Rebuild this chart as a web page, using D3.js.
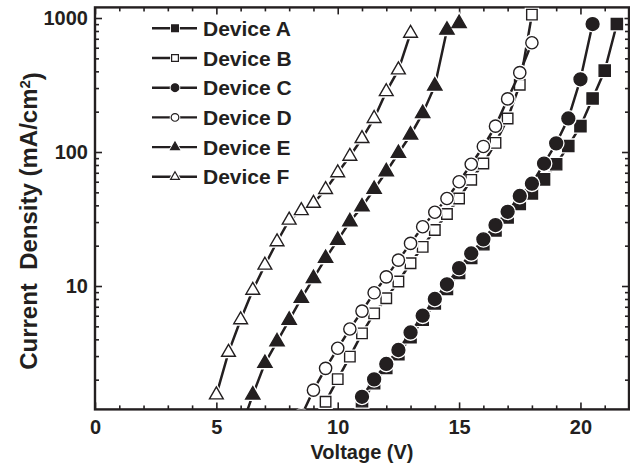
<!DOCTYPE html>
<html lang="en">
<head>
<meta charset="UTF-8">
<title>Current Density vs Voltage</title>
<script src="https://cdn.jsdelivr.net/npm/d3@7"></script>
<style>
  body { margin: 0; background: #fff; }
  svg text { font-family: "Liberation Sans", Arial, sans-serif; font-weight: bold; fill: #231f20; }
</style>
</head>
<body>
<script>
// device names (legend order)
const devices = ['Device A', 'Device B', 'Device C', 'Device D', 'Device E', 'Device F']

// voltage (V) / current density (mA/cm2)
const voltA = [11, 11.5, 12, 12.5, 13, 13.5, 14, 14.5, 15, 15.5, 16, 16.5, 17, 17.5, 18, 18.5, 19, 19.5, 20, 20.5, 21, 21.5]
const currA = [1.38, 1.88, 2.45, 3.1, 4.15, 5.6, 7.4, 9.5, 12.5, 16.2, 20.5, 26, 32.5, 41, 49, 62.5, 81, 111, 156, 251, 405, 902]

const voltB = [9.5, 10, 10.5, 11, 11.5, 12, 12.5, 13, 13.5, 14, 14.5, 15, 15.5, 16, 16.5, 17, 17.5, 18]
const currB = [1.37, 2.02, 2.97, 4.43, 6.25, 8.1, 10.8, 14.8, 19.6, 26.2, 34.5, 45, 62, 82, 117, 178, 318, 1060]

const voltC = [11, 11.5, 12, 12.5, 13, 13.5, 14, 14.5, 15, 15.5, 16, 16.5, 17, 17.5, 18, 18.5, 19, 19.5, 20, 20.5]
const currC = [1.49, 2.01, 2.62, 3.33, 4.5, 6.0, 8.0, 10.3, 13.6, 17.5, 22.3, 28.5, 35.8, 47, 58, 82, 116, 178, 349, 902]

const voltD = [8.5, 9, 9.5, 10, 10.5, 11, 11.5, 12, 12.5, 13, 13.5, 14, 14.5, 15, 15.5, 16, 16.5, 17, 17.5, 18]
const currD = [1.07, 1.67, 2.43, 3.43, 4.78, 6.5, 8.9, 11.7, 15.6, 20.8, 27.7, 35.5, 45, 60, 81, 110, 156, 249, 391, 654]

const voltE = [6, 6.5, 7, 7.5, 8, 8.5, 9, 9.5, 10, 10.5, 11, 11.5, 12, 12.5, 13, 13.5, 14, 14.5, 15]
const currE = [0.85, 1.54, 2.65, 3.84, 5.57, 8.1, 11.4, 16.1, 22, 30.2, 39, 52.7, 71.3, 97.8, 134, 194, 311, 813, 912]

const voltF = [5, 5.5, 6, 6.5, 7, 7.5, 8, 8.5, 9, 9.5, 10, 10.5, 11, 11.5, 12, 12.5, 13]
const currF = [1.54, 3.2, 5.6, 9.3, 14.3, 21.4, 31, 36.5, 41.4, 52.5, 70, 93, 126, 178, 282, 410, 770]

const xMajor = [0, 5, 10, 15, 20]
const xMinor = [1, 2, 3, 4, 6, 7, 8, 9, 11, 12, 13, 14, 16, 17, 18, 19, 21]
const yMajor = [10, 100, 1000]
const yMinor = [2, 3, 4, 5, 6, 7, 8, 9, 20, 30, 40, 50, 60, 70, 80, 90, 200, 300, 400, 500, 600, 700, 800, 900]

const width = 630
const height = 467
const ink = '#231f20'

const plot = { left: 95, right: 629, top: 7.4, bottom: 409.4 }

const series = [
  { name: devices[0], v: voltA, j: currA, shape: d3.symbolSquare, filled: true, size: 125 },
  { name: devices[1], v: voltB, j: currB, shape: d3.symbolSquare, filled: false, size: 110 },
  { name: devices[2], v: voltC, j: currC, shape: d3.symbolCircle, filled: true, size: 130 },
  { name: devices[3], v: voltD, j: currD, shape: d3.symbolCircle, filled: false, size: 118 },
  { name: devices[4], v: voltE, j: currE, shape: d3.symbolTriangle, filled: true, size: 88 },
  { name: devices[5], v: voltF, j: currF, shape: d3.symbolTriangle, filled: false, size: 82 }
]

const svg = d3.select('body').append('svg')
  .attr('width', width)
  .attr('height', height)

const xScale = d3.scaleLinear().domain([0, 22]).range([plot.left, plot.right])
const yScale = d3.scaleLog().domain([1.2, 1200]).range([plot.bottom, plot.top])

svg.append('clipPath').attr('id', 'clip')
  .append('rect')
  .attr('x', plot.left).attr('y', plot.top)
  .attr('width', plot.right - plot.left).attr('height', plot.bottom - plot.top)

// axes: ticks point inward on all four sides
function styleAxis(g) {
  g.select('.domain').remove()
  g.selectAll('line').attr('stroke', ink).attr('stroke-width', 1.6)
  g.selectAll('text').attr('font-size', '20px').attr('fill', ink)
}

svg.append('g').attr('transform', `translate(0, ${plot.bottom})`)
  .call(d3.axisBottom(xScale).tickValues(xMajor).tickSize(-7).tickPadding(10).tickFormat(d3.format('d')))
  .call(styleAxis)
svg.append('g').attr('transform', `translate(0, ${plot.bottom})`)
  .call(d3.axisBottom(xScale).tickValues(xMinor).tickSize(-4).tickFormat(''))
  .call(styleAxis)
svg.append('g').attr('transform', `translate(0, ${plot.top})`)
  .call(d3.axisTop(xScale).tickValues(xMajor).tickSize(-7).tickFormat(''))
  .call(styleAxis)
svg.append('g').attr('transform', `translate(0, ${plot.top})`)
  .call(d3.axisTop(xScale).tickValues(xMinor).tickSize(-4).tickFormat(''))
  .call(styleAxis)

svg.append('g').attr('transform', `translate(${plot.left}, 0)`)
  .call(d3.axisLeft(yScale).tickValues(yMajor).tickSize(-7).tickPadding(7).tickFormat(d3.format('d')))
  .call(styleAxis)
svg.append('g').attr('transform', `translate(${plot.left}, 0)`)
  .call(d3.axisLeft(yScale).tickValues(yMinor).tickSize(-4).tickFormat(''))
  .call(styleAxis)
svg.append('g').attr('transform', `translate(${plot.right}, 0)`)
  .call(d3.axisRight(yScale).tickValues(yMajor).tickSize(-7).tickFormat(''))
  .call(styleAxis)
svg.append('g').attr('transform', `translate(${plot.right}, 0)`)
  .call(d3.axisRight(yScale).tickValues(yMinor).tickSize(-4).tickFormat(''))
  .call(styleAxis)

// frame
svg.append('rect')
  .attr('x', plot.left).attr('y', plot.top)
  .attr('width', plot.right - plot.left).attr('height', plot.bottom - plot.top)
  .attr('fill', 'none').attr('stroke', ink).attr('stroke-width', 2.4)

// curves
const line = d3.line()
  .x((d) => xScale(d[0]))
  .y((d) => yScale(d[1]))

const dataLayer = svg.append('g').attr('clip-path', 'url(#clip)')

series.forEach(function (s) {
  const pts = s.v.map((v, i) => [v, s.j[i]])
  const g = dataLayer.append('g')

  g.append('path')
    .datum(pts)
    .attr('d', line)
    .attr('fill', 'none')
    .attr('stroke', ink)
    .attr('stroke-width', 2.5)

  // white halo leaves a small gap between line and marker
  g.selectAll('path.halo')
    .data(pts)
    .enter()
    .append('path')
    .attr('class', 'halo')
    .attr('d', d3.symbol().type(s.shape).size(s.size))
    .attr('transform', (d) => `translate(${xScale(d[0])}, ${yScale(d[1])})`)
    .attr('fill', '#fff')
    .attr('stroke', '#fff')
    .attr('stroke-width', 4)

  g.selectAll('path.mark')
    .data(pts)
    .enter()
    .append('path')
    .attr('class', 'mark')
    .attr('d', d3.symbol().type(s.shape).size(s.size))
    .attr('transform', (d) => `translate(${xScale(d[0])}, ${yScale(d[1])})`)
    .attr('fill', s.filled ? ink : '#fff')
    .attr('stroke', ink)
    .attr('stroke-width', 1.4)
})

// legend
const legendX = 152
const legendY = 28.3
const legendStep = 29.7

series.forEach(function (s, i) {
  const y = legendY + i * legendStep
  const legendSize = s.shape === d3.symbolTriangle ? 34 : 46
  svg.append('line')
    .attr('x1', legendX).attr('x2', legendX + 45)
    .attr('y1', y).attr('y2', y)
    .attr('stroke', ink).attr('stroke-width', 2.4)
  svg.append('path')
    .attr('d', d3.symbol().type(s.shape).size(legendSize))
    .attr('transform', `translate(${legendX + 23}, ${y})`)
    .attr('fill', '#fff')
    .attr('stroke', '#fff')
    .attr('stroke-width', 3)
  svg.append('path')
    .attr('d', d3.symbol().type(s.shape).size(legendSize))
    .attr('transform', `translate(${legendX + 23}, ${y})`)
    .attr('fill', s.filled ? ink : '#fff')
    .attr('stroke', ink)
    .attr('stroke-width', 1.2)
  svg.append('text')
    .attr('x', legendX + 51)
    .attr('y', y)
    .attr('dy', '0.36em')
    .attr('font-size', '21px')
    .text(s.name)
})

// axis titles
svg.append('text')
  .attr('x', (plot.left + plot.right) / 2)
  .attr('y', 459)
  .attr('text-anchor', 'middle')
  .attr('font-size', '20px')
  .text('Voltage (V)')

const yTitle = svg.append('text')
  .attr('transform', 'translate(37, 221) rotate(-90)')
  .attr('text-anchor', 'middle')
  .attr('font-size', '24px')
  .style('white-space', 'pre')
yTitle.append('tspan').text('Current  Density (mA/cm')
yTitle.append('tspan').attr('dy', '-0.45em').attr('font-size', '15px').text('2')
yTitle.append('tspan').attr('dy', '0.45em').text(')')
</script>
</body>
</html>
